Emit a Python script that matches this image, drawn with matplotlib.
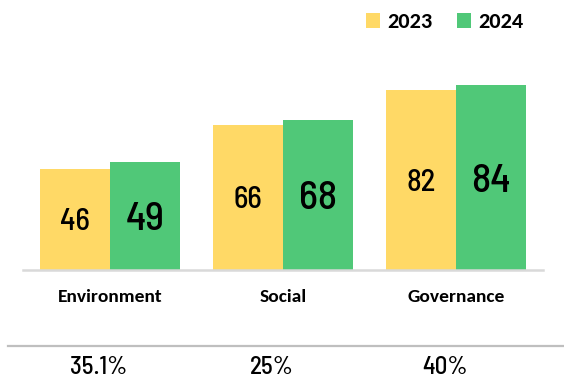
import matplotlib
matplotlib.use("Agg")

import matplotlib.pyplot as plt
from matplotlib.lines import Line2D
from matplotlib.patches import Patch
from matplotlib import transforms

# ── data ──────────────────────────────────────────────────────────────────────
categories = ["Environment", "Social", "Governance"]
years = ["2023", "2024"]
scores_2023 = [46, 66, 82]
scores_2024 = [49, 68, 84]
shares = ["35.1%", "25%", "40%"]

YELLOW = "#FFD966"
GREEN = "#50C878"
NUM_FONT = ["Barlow Semi Condensed", "Roboto Condensed", "DejaVu Sans"]
LABEL_FONT = ["Carlito", "Lato", "DejaVu Sans"]

W, H = 564, 382
fig = plt.figure(figsize=(W / 100, H / 100), dpi=100)
ax = fig.add_axes([23 / W, (H - 270) / H, 520 / W, 230 / H])

# ── bars ──────────────────────────────────────────────────────────────────────
width = 0.405
x = list(range(len(categories)))
x23 = [i - width / 2 for i in x]
x24 = [i + width / 2 for i in x]
ax.bar(x23, scores_2023, width=width, color=YELLOW, label=years[0], zorder=2)
ax.bar(x24, scores_2024, width=width, color=GREEN, label=years[1], zorder=2)

# value labels sit in the middle of each bar
for xi, v in zip(x23, scores_2023):
    ax.text(xi, v / 2, f"{v}", ha="center", va="center_baseline", fontsize=22,
            fontweight="medium", family=NUM_FONT, color="black", zorder=3)
for xi, v in zip(x24, scores_2024):
    ax.text(xi, v / 2, f"{v}", ha="center", va="center_baseline", fontsize=29,
            fontweight="medium", family=NUM_FONT, color="black", zorder=3)

# ── axes cosmetics ────────────────────────────────────────────────────────────
ax.set_xlim(-0.503, 2.503)
ax.set_ylim(0, 104.5)
for name, spine in ax.spines.items():
    spine.set_visible(name == "bottom")
ax.spines["bottom"].set_color("#d9d9d9")
ax.spines["bottom"].set_linewidth(1.8)
ax.set_yticks([])
ax.set_xticks(x)
ax.set_xticklabels(categories, fontsize=14, fontweight="bold", family=LABEL_FONT)
ax.tick_params(axis="x", length=0, pad=14)

# ── share row under the chart ────────────────────────────────────────────────
fig.add_artist(Line2D([8 / W, 1.0], [(H - 346) / H] * 2,
                      transform=fig.transFigure, color="#bfbfbf", lw=1.6))
trans = transforms.blended_transform_factory(ax.transData, fig.transFigure)
for xi, s in zip(x, shares):
    ax.text(xi - 0.065, (H - 368) / H, s, transform=trans, ha="center",
            va="center", fontsize=18, fontweight="medium", family=NUM_FONT,
            color="black", clip_on=False)

# ── legend ────────────────────────────────────────────────────────────────────
handles = [Patch(facecolor=YELLOW, label=years[0]),
           Patch(facecolor=GREEN, label=years[1])]
fig.legend(handles=handles, loc="center left",
           bbox_to_anchor=(366 / W, (H - 22) / H), ncol=2, frameon=False,
           handlelength=0.65, handleheight=0.65, handletextpad=0.3,
           columnspacing=1.1, borderaxespad=0, borderpad=0,
           prop={"family": LABEL_FONT, "weight": "bold", "size": 16})

fig.savefig("out.png", dpi=100)
